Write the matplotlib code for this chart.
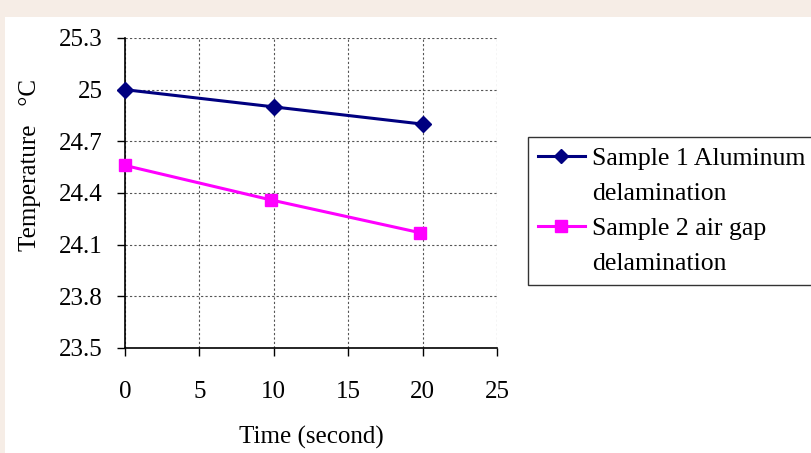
import numpy as np
import matplotlib.pyplot as plt
from matplotlib.patches import Rectangle
from matplotlib.lines import Line2D

plt.rcParams['font.family'] = ['Liberation Serif', 'DejaVu Serif']

time1 = [0, 10, 20]
temp1 = [25.0, 24.90, 24.80]
time2 = [0, 9.8, 19.8]
temp2 = [24.56, 24.36, 24.17]
labels1 = ["Sample 1 Aluminum", "delamination"]
labels2 = ["Sample 2 air gap", "delamination"]
yticks = [23.5, 23.8, 24.1, 24.4, 24.7, 25.0, 25.3]
xticks = [0, 5, 10, 15, 20, 25]

fig = plt.figure(figsize=(8.11, 4.53), dpi=100, facecolor="#f6ede6")
bg = Rectangle((5/811, 0), 1, 1 - 17/453, transform=fig.transFigure,
               facecolor="white", edgecolor="none", zorder=-10)
fig.patches.append(bg)
ax = fig.add_axes([125/811, 1 - 348/453, (497-125)/811, (348-38)/453])
ax.set_facecolor("white")

l1, = ax.plot(time1, temp1, color="#000080", lw=2.2, marker="D", ms=8, clip_on=False, zorder=3)
l2, = ax.plot(time2, temp2, color="#ff00ff", lw=2.2, marker="s", ms=8.5, clip_on=False, zorder=3)

ax.set_xlim(0, 25)
ax.set_ylim(23.5, 25.3)
ax.set_xticks(xticks)
ax.set_yticks(yticks)
ax.set_yticklabels(["%g" % v for v in yticks])
ax.tick_params(direction="out", length=6, width=1, labelsize=18)
ax.tick_params(axis="y", pad=10)
ax.tick_params(axis="x", pad=18)
ax.grid(True, color="#555555", linestyle=(0, (2, 2)), linewidth=0.8)
ax.spines["top"].set_visible(False)
ax.spines["right"].set_visible(False)
for s in ["left", "bottom"]:
    ax.spines[s].set_linewidth(1.2)

ax.set_xlabel("Time (second)", fontsize=18, labelpad=16)
ax.set_ylabel("Temperature   °C", fontsize=18)
ax.yaxis.set_label_coords(-0.225, 0.59)

# second line of each legend label gets an empty handle
blank = Line2D([], [], linestyle="none", marker="none")
handles = [l1, blank, l2, blank]
leg = fig.legend(handles, labels1 + labels2, loc="upper left",
                 bbox_to_anchor=(528/811, 1 - 137/453), fontsize=18.5,
                 frameon=True, fancybox=False, edgecolor="black", handlelength=1.83,
                 markerscale=0.95, borderpad=0.38, labelspacing=0.47, handletextpad=0.3,
                 borderaxespad=0)
leg.get_frame().set_linewidth(1.0)

plt.savefig("out.png", dpi=100, facecolor=fig.get_facecolor())
